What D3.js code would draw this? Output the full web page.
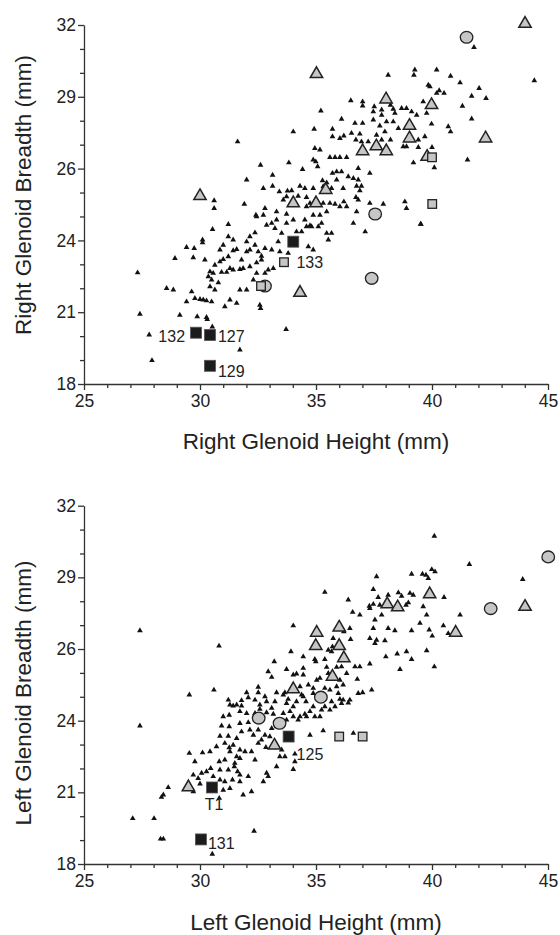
<!DOCTYPE html>
<html>
<head>
<meta charset="utf-8">
<script src="https://cdn.jsdelivr.net/npm/d3@7"></script>
<style>
  body { margin: 0; background: #fff; }
  svg text { font-family: "Liberation Sans", Arial, sans-serif; fill: #222; }
</style>
</head>
<body>
<svg id="chart" width="560" height="935"></svg>
<script>
// axis ticks
const xMajorTicks = [25, 30, 35, 40, 45];
const xMinorTicks = [26, 27, 28, 29, 31, 32, 33, 34, 36, 37, 38, 39, 41, 42, 43, 44];
const yMajorTicks = [18, 20.8, 23.6, 26.4, 29.2, 32];
const yTickLabels = ['18', '21', '24', '26', '29', '32'];

// right side (top panel)
const rightTriangles = [
  [38.11,30.05],[39.26,30.25],[39.22,30.05],[39.84,29.66],[36.5,29.05],[37.01,29.01],[37.01,28.85],[37.51,28.82],[37.47,28.62],[37.83,28.69],
  [38.21,28.88],[38.33,28.72],[38.4,28.56],[38.69,28.75],[38.9,28.75],[39.12,28.62],[39.34,28.49],[39.62,29.01],[39.77,28.56],[35.21,28.65],
  [36.1,28.33],[36.68,28.17],[37.01,28.17],[37.47,28.3],[37.83,28.49],[38.04,28.23],[38.33,28.23],[38.55,27.97],[37.75,28.07],[37.97,27.84],
  [34.02,27.84],[34.92,27.94],[35.71,27.94],[35.71,27.65],[36.03,27.58],[36.2,27.68],[36.53,27.78],[36.89,27.75],[36.72,27.52],[36.96,27.45],
  [37.25,27.45],[37.61,27.71],[37.83,27.52],[38.21,27.52],[38.76,27.26],[38.9,27.26],[39.41,27.52],[39.41,27.23],[39.69,27.65],
  [31.62,27.45],[32.61,26.54],[33.83,26.63],[34.42,26.37],[33.13,26.15],[32.01,25.96],[32.73,25.63],[33.13,25.72],[33.42,25.5],[33.77,25.53],
  [33.95,25.54],[34.31,25.72],[34.52,25.63],[34.88,26.74],[34.95,27.19],[35.17,27.13],[34.99,26.67],[35.07,26.48],[35.6,26.84],[35.82,26.84],
  [36.03,26.84],[36.32,26.84],[35.71,26.22],[36.1,26.28],[35.89,26.28],[36.39,26.09],[36.61,26.02],[36.82,25.96],[37.32,26.22],[36.82,26.41],
  [35.28,25.93],[35.46,25.85],[35.89,25.96],[36.17,25.63],[36.75,25.72],[36.96,25.72],[36.89,25.54],[35.31,25.7],[35.67,25.63],[34.88,25.63],
  [34.59,25.28],[34.23,25.33],[33.73,25.31],[33.59,25.18],[34.59,24.92],[34.74,25.05],[35.31,25.05],[35.6,25.05],[35.82,25.02],[36.03,24.92],
  [36.32,24.92],[36.2,25.11],[36.72,25.28],[36.82,25.18],[37.32,25.05],[37.9,25.02],[38.83,25.11],[38.9,24.85],[36.75,24.72],[36.61,24.27],
  [37.12,23.94],[39.52,24.24],
  [30.61,25.15],[30.61,24.85],[31.91,25.02],[31.22,24.23],[30.54,24.03],[30.11,23.62],[30.11,23.51],[29.42,23.33],[29.75,23.29],[28.92,22.9],
  [29.71,22.93],[30.21,22.84],[30.86,23.23],[31.0,23.42],[31.22,23.75],[31.43,23.62],[31.58,23.25],[32.01,23.55],[32.15,23.75],[32.37,23.9],
  [32.41,24.59],[32.44,24.53],[32.8,24.85],[32.73,24.59],[32.87,24.2],[33.09,24.27],[33.3,24.72],[33.3,24.4],[33.23,24.07],[33.52,23.88],
  [33.73,24.27],[33.73,24.63],[34.02,24.4],[34.16,23.94],[34.38,23.94],[34.52,24.4],[34.74,24.18],[34.88,24.59],[35.17,24.59],[35.24,24.27],
  [35.46,24.72],[35.46,23.88],[35.53,23.62],[35.67,23.88],[34.59,24.14],[34.81,24.14],[35.1,24.14],[32.15,23.23],[32.51,23.16],[32.65,22.99],
  [32.37,23.42],[32.8,23.29],[33.09,23.23],[33.37,23.55],[33.44,23.16],[33.8,23.1],[34.67,23.36],[34.88,23.23],[31.22,22.97],[30.86,22.77],
  [31.0,22.86],[31.29,22.51],[30.64,22.64],[30.43,22.38],[30.57,22.32],[30.93,22.36],[31.15,22.36],[31.43,22.45],[31.72,22.47],[31.86,22.51],
  [32.15,22.58],[32.44,22.73],[32.65,22.84],[32.94,22.45],[33.16,22.51],[32.44,22.32],[32.8,22.32],[30.36,22.19],[30.5,22.06],[30.79,21.95],
  [30.43,21.8],[30.64,21.67],[31.72,21.67],[32.01,21.67],[32.3,22.06],[31.29,21.28],[31.58,21.15],[29.78,21.34],[30.0,21.3],[30.14,21.28],
  [30.28,21.25],[30.5,21.21],[29.42,21.21],[29.64,21.6],[28.85,21.67],[28.56,21.73],[31.07,21.02],[32.58,21.08],[32.61,20.95],[29.13,20.69],
  [29.88,20.63],[30.28,20.6],[31.79,22.84],[32.01,23.16],[31.43,23.2],
  [27.31,22.34],[27.41,20.73],[27.81,19.92],[27.93,18.92],[30.31,20.52],[30.53,20.23],[31.72,19.33],[33.71,20.13],
  [41.81,31.13],[44.41,29.83],[40.2,30.25],[40.8,30.01],[41.21,29.75],[39.91,29.6],[40.31,29.44],[40.2,29.34],[40.52,29.34],[42.03,29.53],
  [41.71,29.23],[42.33,29.14],[41.31,28.84],[41.71,28.34],[41.53,26.74],[40.1,26.44],[40.0,27.23],[40.8,27.84],[40.7,28.04],[39.98,28.14],
  [39.2,26.63],[39.51,24.24]
];
const rightGrayTriangles = [
  [35.02,30.09],[38.02,29.1],[39.98,28.88],[39.03,28.07],[39.03,27.58],[37.01,27.08],[37.6,27.27],[38.03,27.08],
  [39.79,26.86],[42.31,27.58],[44.01,32.05],[35.42,25.57],[34.02,25.05],[35.0,25.05],[30.0,25.33],[34.31,21.56]
];
const rightGrayCircles = [[41.49,31.52],[37.55,24.63],[37.4,22.12],[32.8,21.82]];
const rightGraySquares = [[40.0,26.84],[40.01,25.02],[33.62,22.75],[32.63,21.82]];
const rightBlackSquares = [[29.83,20.0],[30.43,19.91],[30.43,18.71],[34.02,23.55]];
const rightLabels = [['132',29.83,20.0],['127',30.43,19.91],['129',30.43,18.71],['133',33.62,22.75]];

// left side (bottom panel)
const leftTriangles = [
  [37.61,29.23],[39.12,29.33],[39.59,29.33],[39.74,29.29],[39.84,29.16],[35.38,28.62],[37.47,28.73],[37.68,28.42],[38.11,28.51],[38.55,28.6],
  [38.69,28.47],[39.05,28.58],[39.19,28.51],[38.98,28.21],[38.88,28.12],[37.3,28.08],[37.32,27.99],[37.47,28.15],[37.75,28.12],[36.39,28.32],
  [36.58,27.84],[36.89,27.73],[37.54,27.54],[37.83,27.73],[37.47,27.21],[38.11,27.21],[38.4,27.12],[39.12,27.12],[39.48,27.41],[39.77,27.73],
  [39.62,28.06],[39.88,27.15],[34.02,27.31],[30.82,26.52],[36.46,27.21],[36.2,27.08],[36.49,26.78],[37.32,26.82],[37.61,26.75],[37.54,26.62],
  [37.97,26.73],[38.01,26.1],[38.5,26.21],[38.9,26.3],[39.12,26.0],[38.62,25.61],[39.77,26.34],[35.74,26.82],[35.71,26.49],[35.53,26.36],
  [35.67,26.3],[35.38,26.0],[34.95,26.0],[34.99,25.91],[34.45,26.1],[33.92,26.3],[33.2,25.91],[33.73,25.61],[34.02,25.39],[34.16,25.43],
  [34.45,25.65],[34.45,25.39],[35.46,25.69],[35.53,25.45],[35.89,25.69],[36.1,25.71],[36.32,25.45],[36.68,25.71],[36.89,25.71],[37.32,25.82],
  [36.78,25.22],[36.17,25.0],[36.03,25.19],[35.17,25.26],[35.03,25.19],[34.67,25.0],[34.88,24.87],[34.31,24.93],[34.38,24.61],[33.66,24.7],
  [33.59,24.61],[33.8,24.44],[32.94,25.52],[33.09,25.3],[30.6,24.8],[29.54,24.61],[32.51,24.91],[32.51,24.7],[32.01,24.7],[32.08,24.5],
  [31.79,24.39],[31.22,24.41],[31.29,24.22],[31.43,24.18],[31.58,24.22],[31.79,24.18],[32.37,24.41],[32.58,24.22],[32.8,24.54],[32.87,24.35],
  [33.23,24.35],[33.3,24.7],[33.73,24.28],[33.88,23.96],[34.02,24.15],[34.16,24.35],[34.45,24.54],[34.57,24.35],[34.88,24.67],[35.38,24.87],
  [35.6,24.8],[35.89,24.93],[35.96,24.67],[36.03,24.44],[36.1,24.28],[35.67,24.35],[35.82,24.15],[35.38,24.15],[34.88,24.15],[35.24,24.02],
  [34.74,23.96],[34.59,23.76],[34.31,23.76],[34.23,23.63],[34.02,23.76],[34.52,23.86],[34.95,23.76],[35.17,23.76],[35.6,24.02],[36.17,24.41],
  [36.39,24.3],[36.46,24.41],[36.82,24.67],[37.01,24.7],[37.4,24.8],[31.26,23.82],[31.72,23.96],[32.01,23.89],[32.37,23.89],[32.58,24.05],
  [32.87,23.92],[33.09,24.09],[33.16,23.86],[33.59,23.89],[33.73,23.63],[31.72,23.5],[31.79,23.17],[32.08,23.53],[32.15,23.24],[32.3,23.04],
  [32.51,23.24],[32.65,22.85],[32.8,23.04],[33.01,22.98],[33.3,23.37],[33.09,23.3],[31.0,23.76],[30.93,23.4],[31.26,23.37],[30.86,23.0],
  [31.22,23.0],[31.58,22.91],[31.07,22.72],[31.43,22.65],[31.26,22.55],[31.72,22.46],[31.94,22.39],[32.22,22.39],[32.51,22.72],[32.84,22.56],
  [33.52,22.46],[33.66,22.2],[33.44,22.2],[34.09,22.3],[34.09,22.0],[33.3,21.81],[34.02,21.7],[32.37,22.07],[32.87,21.55],[32.94,21.42],
  [32.73,21.22],[34.74,23.04],[35.31,23.21],[36.61,23.11],[29.54,22.33],[29.78,22.0],[30.11,22.35],[30.43,22.39],[30.71,22.59],[31.29,22.39],
  [31.58,22.2],[31.72,22.13],[30.83,22.0],[31.07,22.07],[31.5,21.94],[30.86,21.68],[31.22,21.68],[31.48,21.81],[31.62,21.61],[31.72,21.48],
  [32.08,21.42],[31.4,21.29],[31.72,21.22],[31.07,21.22],[30.86,21.29],[30.46,21.74],[30.28,21.61],[30.57,21.42],[30.07,21.55],[29.92,21.35],
  [29.71,21.48],[31.0,20.89],[31.29,20.96],[31.86,20.7],[32.22,20.83],[29.71,20.83],[30.0,21.13],[28.63,20.99],[28.42,20.7],[28.34,20.61],
  [30.83,20.57],
  [27.41,27.12],[27.41,23.4],[27.1,19.78],[28.02,19.78],[28.3,18.98],[28.42,18.98],[30.53,18.39],[32.33,19.29],[40.1,30.81],[41.61,29.71],
  [43.91,29.12],[39.99,29.51],[40.13,29.42],[40.52,28.42],[41.21,27.73],[40.49,27.31],[40.7,27.01],[40.01,26.91],[40.1,25.71]
];
const leftGrayTriangles = [
  [38.07,28.15],[38.52,28.03],[39.9,28.54],[41.02,27.04],[44.01,28.05],[35.03,27.04],[36.0,27.24],
  [34.99,26.52],[36.0,26.52],[36.2,26.04],[35.71,25.32],[34.02,24.83],[33.21,22.63],[29.5,21.0]
];
const leftGrayCircles = [[45.01,30.0],[42.53,27.98],[35.21,24.52],[32.53,23.7],[33.43,23.5]];
const leftGraySquares = [[36.0,22.98],[37.01,22.98]];
const leftBlackSquares = [[33.82,22.98],[30.52,20.99],[30.04,18.96]];
const leftLabels = [['125',33.82,22.98],['T1',30.52,20.99],['131',30.04,18.96]];

// label placement relative to its marker, in pixels
const labelOffsets = {
  '132': { dx: -11, dy: 9, anchor: 'end' },
  '127': { dx: 8, dy: 6.7, anchor: 'start' },
  '129': { dx: 8, dy: 11, anchor: 'start' },
  '133': { dx: 12.5, dy: 6, anchor: 'start' },
  '125': { dx: 8, dy: 23, anchor: 'start' },
  'T1': { dx: 2, dy: 23, anchor: 'middle' },
  '131': { dx: 7, dy: 9.5, anchor: 'start' }
};

const
  INK = '#222',
  GRAY = '#c6c6c6',
  LEFT = 84,
  RIGHT = 548;

const svg = d3.select('#chart');

const panels = [
  {
    top: 25, bottom: 384,
    small: rightTriangles, grayTri: rightGrayTriangles, circles: rightGrayCircles,
    graySq: rightGraySquares, blackSq: rightBlackSquares, labels: rightLabels,
    xTitle: 'Right Glenoid Height (mm)', yTitle: 'Right Glenoid Breadth (mm)',
    xTitleY: 449, yTitleY: 195
  },
  {
    top: 505.7, bottom: 864,
    small: leftTriangles, grayTri: leftGrayTriangles, circles: leftGrayCircles,
    graySq: leftGraySquares, blackSq: leftBlackSquares, labels: leftLabels,
    xTitle: 'Left Glenoid Height (mm)', yTitle: 'Left Glenoid Breadth (mm)',
    xTitleY: 930, yTitleY: 693
  }
];

// minor ticks on y: thirds between the labelled ticks
const yMinorTicks = [];
yMajorTicks.slice(1).forEach((v, i) => {
  const prev = yMajorTicks[i], step = (v - prev) / 3;
  yMinorTicks.push(prev + step, prev + 2 * step);
});

const smallTri = d3.symbol(d3.symbolTriangle, 14)();
const bigTri = d3.symbol(d3.symbolTriangle, 66)();

panels.forEach((p) => {
  const x = d3.scaleLinear().domain([25, 45]).range([LEFT, RIGHT]);
  const y = d3.scaleLinear().domain([18, 32]).range([p.bottom, p.top]);
  const g = svg.append('g');

  const styleAxis = (a) => {
    a.attr('color', '#333').attr('font-size', null).attr('font-family', null);
    a.selectAll('path, line').attr('stroke-width', 1.3);
    a.selectAll('text').style('font-size', '17.5px');
  };

  // x axis
  g.append('g')
    .attr('transform', `translate(0,${p.bottom})`)
    .call(d3.axisBottom(x).tickValues(xMinorTicks).tickSize(4).tickFormat(''))
    .call((a) => a.select('.domain').remove())
    .call(styleAxis);
  g.append('g')
    .attr('transform', `translate(0,${p.bottom})`)
    .call(d3.axisBottom(x).tickValues(xMajorTicks).tickSize(6).tickSizeOuter(0).tickPadding(5).tickFormat(d3.format('d')))
    .call(styleAxis);

  // y axis
  g.append('g')
    .attr('transform', `translate(${LEFT},0)`)
    .call(d3.axisLeft(y).tickValues(yMinorTicks).tickSize(4).tickFormat(''))
    .call((a) => a.select('.domain').remove())
    .call(styleAxis);
  g.append('g')
    .attr('transform', `translate(${LEFT},0)`)
    .call(d3.axisLeft(y).tickValues(yMajorTicks).tickSize(6).tickSizeOuter(0).tickPadding(2)
      .tickFormat((d, i) => yTickLabels[i]))
    .call(styleAxis);

  // titles
  g.append('text')
    .attr('x', (LEFT + RIGHT) / 2)
    .attr('y', p.xTitleY)
    .attr('text-anchor', 'middle')
    .style('font-size', '22.5px')
    .text(p.xTitle);
  g.append('text')
    .attr('transform', `translate(31,${p.yTitleY}) rotate(-90)`)
    .attr('text-anchor', 'middle')
    .style('font-size', '22.5px')
    .text(p.yTitle);

  // small black triangles
  g.append('g').selectAll('path')
    .data(p.small)
    .enter()
    .append('path')
    .attr('d', smallTri)
    .attr('transform', (d) => `translate(${x(d[0])},${y(d[1])})`)
    .attr('fill', '#111');

  // large gray triangles
  g.append('g').selectAll('path')
    .data(p.grayTri)
    .enter()
    .append('path')
    .attr('d', bigTri)
    .attr('transform', (d) => `translate(${x(d[0])},${y(d[1])})`)
    .attr('fill', GRAY)
    .attr('stroke', INK)
    .attr('stroke-width', 1.5)
    .attr('stroke-linejoin', 'miter');

  // gray circles
  g.append('g').selectAll('ellipse')
    .data(p.circles)
    .enter()
    .append('ellipse')
    .attr('cx', (d) => x(d[0]))
    .attr('cy', (d) => y(d[1]))
    .attr('rx', 6.3)
    .attr('ry', 5.9)
    .attr('fill', GRAY)
    .attr('stroke', INK)
    .attr('stroke-width', 1.3);

  // gray squares
  g.append('g').selectAll('rect')
    .data(p.graySq)
    .enter()
    .append('rect')
    .attr('x', (d) => x(d[0]) - 4.3)
    .attr('y', (d) => y(d[1]) - 4.3)
    .attr('width', 8.6)
    .attr('height', 8.6)
    .attr('fill', GRAY)
    .attr('stroke', INK)
    .attr('stroke-width', 1.3);

  // black squares
  g.append('g').selectAll('rect')
    .data(p.blackSq)
    .enter()
    .append('rect')
    .attr('x', (d) => x(d[0]) - 5.5)
    .attr('y', (d) => y(d[1]) - 5.5)
    .attr('width', 11)
    .attr('height', 11)
    .attr('fill', '#1c1c1c')
    .attr('stroke', '#555')
    .attr('stroke-width', 0.8);

  // specimen labels
  g.append('g').selectAll('text')
    .data(p.labels)
    .enter()
    .append('text')
    .attr('x', (d) => x(d[1]) + labelOffsets[d[0]].dx)
    .attr('y', (d) => y(d[2]) + labelOffsets[d[0]].dy)
    .attr('text-anchor', (d) => labelOffsets[d[0]].anchor)
    .style('font-size', '16px')
    .text((d) => d[0]);
});
</script>
</body>
</html>
